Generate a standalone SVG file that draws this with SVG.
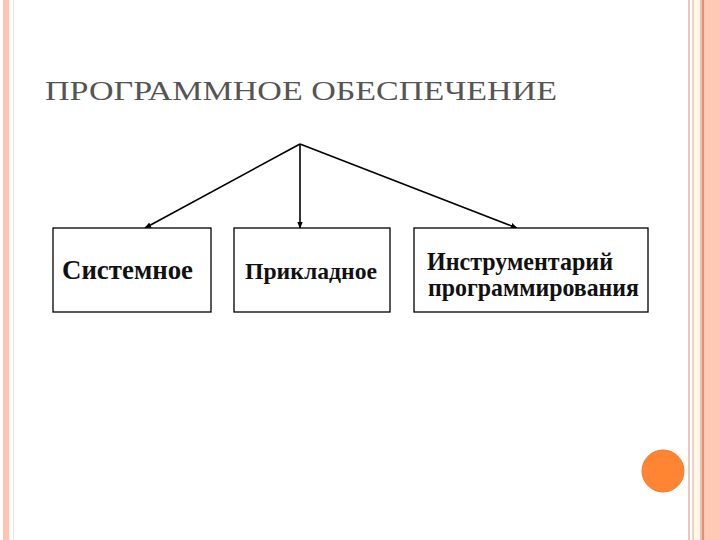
<svg xmlns="http://www.w3.org/2000/svg" width="720" height="540" viewBox="0 0 720 540">
<style>
.box{fill:#fff;stroke:#000;stroke-width:1.3}
.lbl{font-family:'Liberation Serif','Times New Roman',serif;font-weight:bold;fill:#111}
.conn{stroke:#000;stroke-width:1.6;fill:none;marker-end:url(#ah)}
</style>
<defs>
<marker id="ah" viewBox="0 0 10 10" refX="9" refY="5" markerWidth="7" markerHeight="7" orient="auto" markerUnits="userSpaceOnUse">
<path d="M0,1 L10,5 L0,9 z" fill="#000"/>
</marker>
</defs>
<rect width="720" height="540" fill="#fff"/>
<g id="border">
<rect x="3" y="0" width="6" height="540" fill="#FFC4AE"/>
<rect x="13" y="0" width="1" height="540" fill="#FBE5D8"/>
<rect x="688" y="0" width="2" height="540" fill="#E9C9BC"/>
<rect x="692" y="0" width="2" height="540" fill="#EED2C4"/>
<rect x="694" y="0" width="6" height="540" fill="#FFF6EC"/>
<rect x="700" y="0" width="2" height="540" fill="#F2C0AC"/>
<rect x="702" y="0" width="2" height="540" fill="#F08C6C"/>
<rect x="704" y="0" width="16" height="540" fill="#FFC9B6"/>
</g>
<circle cx="663" cy="471" r="21" fill="#FF8533" stroke="#F07A2A" stroke-width="1"/>
<text x="45" y="100" font-family="Liberation Serif,serif" font-size="28" fill="#555" textLength="512" lengthAdjust="spacingAndGlyphs">ПРОГРАММНОЕ ОБЕСПЕЧЕНИЕ</text>
<g id="connectors">
<path class="conn" d="M300,144 L145,228"/>
<path class="conn" d="M300,144 L300,228"/>
<path class="conn" d="M300,144 L517,228"/>
</g>
<g id="n1">
<rect class="box" x="53" y="228" width="158" height="84"/>
<text class="lbl" x="62" y="279" font-size="28" textLength="131" lengthAdjust="spacingAndGlyphs">Системное</text>
</g>
<g id="n2">
<rect class="box" x="234" y="228" width="156" height="84"/>
<text class="lbl" x="245" y="279" font-size="24" textLength="132" lengthAdjust="spacingAndGlyphs">Прикладное</text>
</g>
<g id="n3">
<rect class="box" x="414" y="228" width="234" height="84"/>
<text class="lbl" x="427" y="270" font-size="25" textLength="186" lengthAdjust="spacingAndGlyphs">Инструментарий</text>
<text class="lbl" x="428" y="296" font-size="25" textLength="211" lengthAdjust="spacingAndGlyphs">программирования</text>
</g>
</svg>
